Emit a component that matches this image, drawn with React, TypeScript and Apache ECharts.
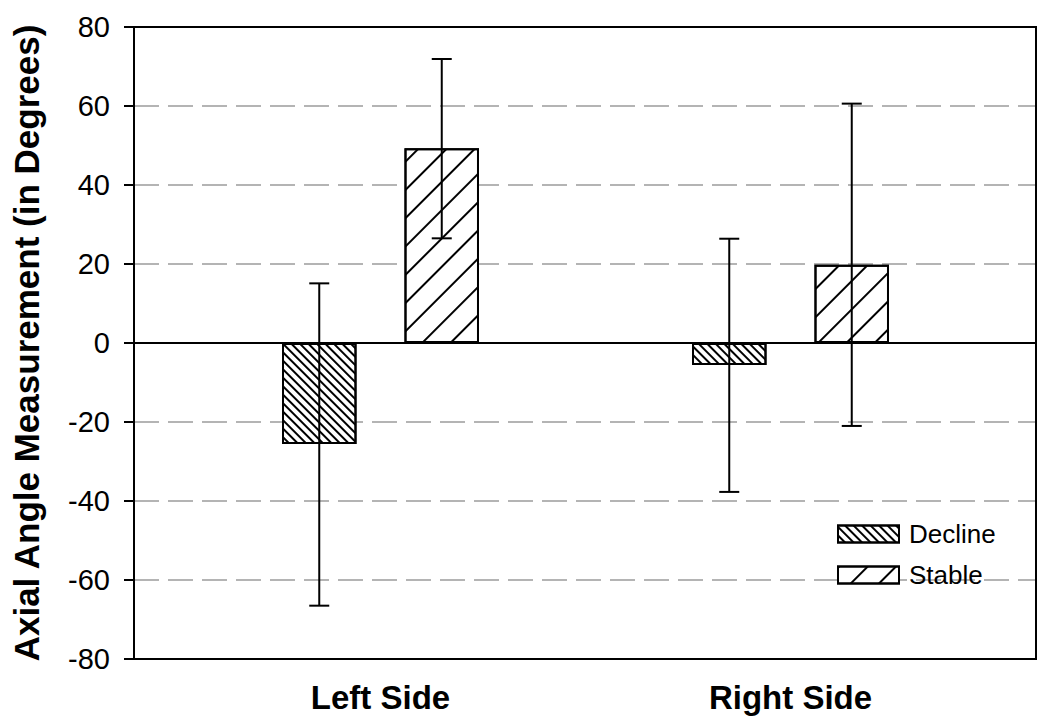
import React, { useEffect, useRef } from "react";
import * as echarts from "echarts";

const categories = ["Left Side", "Right Side"];
const seriesNames = ["Decline", "Stable"];
const declineValues = [-25.6, -5.6];
const stableValues = [49.3, 19.8];
const declineErrLow = [-66.5, -37.7];
const declineErrHigh = [15.1, 26.4];
const stableErrLow = [26.5, -21.0];
const stableErrHigh = [71.9, 60.6];
const yTicks = [-80, -60, -40, -20, 0, 20, 40, 60, 80];

const FONT = "'Liberation Sans', Arial, Helvetica, sans-serif";

export default function App() {
  const ref = useRef<HTMLDivElement>(null);
  useEffect(() => {
    if (!ref.current) return;
    const chart = echarts.init(ref.current, null, { renderer: "svg" });
    const errData: number[][] = [];
    categories.forEach((_, i) => {
      errData.push([i, 0, declineErrLow[i], declineErrHigh[i]]);
      errData.push([i, 1, stableErrLow[i], stableErrHigh[i]]);
    });
    const half = 61.25;
    const cap = 10;
    const option: any = {
      animation: false,
      backgroundColor: "#fff",
      textStyle: { fontFamily: FONT },
      grid: [
        { left: 134, right: 14, top: 27, bottom: 66, show: true, borderColor: "#000", borderWidth: 2, backgroundColor: "transparent", containLabel: false, z: 5 },
        { left: 175.5, right: 54.5, top: 27, bottom: 66, containLabel: false },
      ],
      xAxis: [
        {
          type: "value", gridIndex: 0, min: 0, max: 1,
          axisLine: { show: true, onZero: true, lineStyle: { color: "#000", width: 2 } },
          axisTick: { show: false }, axisLabel: { show: false }, splitLine: { show: false },
        },
        {
          type: "category", gridIndex: 1, data: categories,
          axisLine: { show: false, onZero: false }, axisTick: { show: false },
          axisLabel: { fontSize: 33, fontWeight: "bold", color: "#000", margin: 22, fontFamily: FONT },
        },
      ],
      yAxis: [
        {
          type: "value", gridIndex: 0, min: yTicks[0], max: yTicks[yTicks.length - 1], interval: 20,
          name: "Axial Angle Measurement (in Degrees)", nameLocation: "middle", nameGap: 90,
          nameTextStyle: { fontSize: 35, fontWeight: "bold", color: "#000", fontFamily: FONT },
          axisLine: { show: true, lineStyle: { color: "#000", width: 2 } },
          axisTick: { show: true, length: 10, lineStyle: { color: "#000", width: 2 } },
          axisLabel: { fontSize: 29, color: "#000", margin: 24, fontFamily: FONT },
          splitLine: { show: true, showMinLine: false, showMaxLine: false, lineStyle: { color: "#b4b4b4", width: 2, type: [25, 9] } },
        },
        {
          type: "value", gridIndex: 1, min: yTicks[0], max: yTicks[yTicks.length - 1], interval: 20,
          show: false, splitLine: { show: false },
        },
      ],
      legend: {
        data: seriesNames, orient: "vertical", left: 832, top: 516,
        itemWidth: 61, itemHeight: 17, itemGap: 15, icon: "rect",
        textStyle: { fontSize: 26, color: "#000", fontFamily: FONT, padding: [0, 0, 0, 5] },
      },
      series: [
        {
          name: seriesNames[0], type: "bar", xAxisIndex: 1, yAxisIndex: 1, data: declineValues,
          barWidth: 74.5, barGap: "64.4%",
          itemStyle: {
            color: "#fff", borderColor: "#000", borderWidth: 2,
            decal: { symbol: "rect", symbolSize: 1, dashArrayX: [1, 0], dashArrayY: [1.6, 3.6], rotation: Math.PI / 4, color: "#000", backgroundColor: "#fff" },
          },
        },
        {
          name: seriesNames[1], type: "bar", xAxisIndex: 1, yAxisIndex: 1, data: stableValues,
          barWidth: 74.5, barGap: "64.4%",
          itemStyle: {
            color: "#fff", borderColor: "#000", borderWidth: 2,
            decal: { symbol: "rect", symbolSize: 1, dashArrayX: [1, 0], dashArrayY: [1.6, 17.5], rotation: -Math.PI / 4, color: "#000", backgroundColor: "#fff" },
          },
        },
        {
          name: "errors", type: "custom", xAxisIndex: 1, yAxisIndex: 1, data: errData, z: 10,
          renderItem: (params: any, api: any) => {
            const c = api.value(0);
            const s = api.value(1);
            const x = api.coord([c, 0])[0] + (s === 0 ? -half : half);
            const yl = api.coord([c, api.value(2)])[1];
            const yh = api.coord([c, api.value(3)])[1];
            const st = { stroke: "#000", lineWidth: 2 };
            return {
              type: "group",
              children: [
                { type: "line", shape: { x1: x, y1: yl, x2: x, y2: yh }, style: st },
                { type: "line", shape: { x1: x - cap, y1: yl, x2: x + cap, y2: yl }, style: st },
                { type: "line", shape: { x1: x - cap, y1: yh, x2: x + cap, y2: yh }, style: st },
              ],
            };
          },
        },
      ],
    };
    chart.setOption(option);
    return () => chart.dispose();
  }, []);
  return <div ref={ref} style={{ position: "fixed", left: 0, top: 0, width: 1050, height: 725, background: "#fff" }} />;
}
